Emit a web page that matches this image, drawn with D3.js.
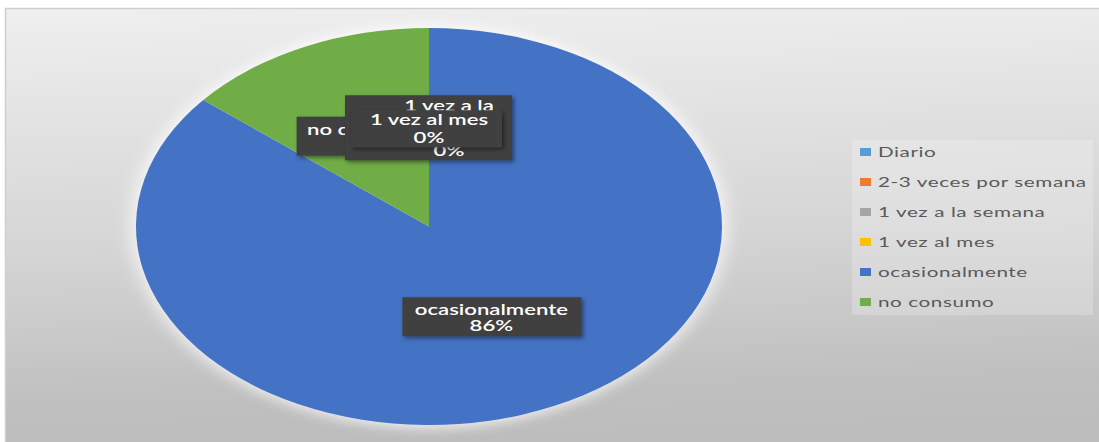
<!DOCTYPE html>
<html>
<head>
<meta charset="utf-8">
<script src="https://cdn.jsdelivr.net/npm/d3@7"></script>
<style>
  body { margin: 0; background: #fff; }
  svg { display: block; }
  text { font-family: Lato, "Open Sans", sans-serif; }
</style>
</head>
<body>
<svg id="chart" width="1099" height="442"></svg>
<script>
// Frecuencia de consumo
const categories = ["Diario", "2-3 veces por semana", "1 vez a la semana", "1 vez al mes", "ocasionalmente", "no consumo"];
const values = [0, 0, 0, 0, 86, 14];
const colors = ["#5b9bd5", "#ed7d31", "#a5a5a5", "#ffc000", "#4472c4", "#70ad47"];
// how each data label's text is broken into lines
const labelLines = [
  ["Diario", "0%"],
  ["2-3 veces por", "semana", "0%"],
  ["1 vez a la", "semana", "0%"],
  ["1 vez al mes", "0%"],
  ["ocasionalmente", "86%"],
  ["no consumo", "14%"]
];

const W = 1099, H = 442;
const cx = 429, cy = 226.5, ry = 198.5, rx = 293;
const sx = rx / ry;               // horizontal stretch of the whole drawing

const svg = d3.select("#chart");
const defs = svg.append("defs");

// chart area background gradient
const bg = defs.append("linearGradient").attr("id", "bg")
  .attr("x1", "0").attr("y1", "0").attr("x2", "0.08").attr("y2", "1");
bg.append("stop").attr("offset", "0").attr("stop-color", "#efefef");
bg.append("stop").attr("offset", "0.55").attr("stop-color", "#d5d5d5");
bg.append("stop").attr("offset", "0.9").attr("stop-color", "#bfbfbf");
bg.append("stop").attr("offset", "1").attr("stop-color", "#bdbdbd");

const glow = defs.append("filter").attr("id", "glow")
  .attr("x", "-20%").attr("y", "-20%").attr("width", "140%").attr("height", "140%");
glow.append("feGaussianBlur").attr("stdDeviation", 6);

const shadow = defs.append("filter").attr("id", "shadow")
  .attr("x", "-20%").attr("y", "-30%").attr("width", "150%").attr("height", "170%");
shadow.append("feDropShadow").attr("dx", 2).attr("dy", 2).attr("stdDeviation", 2)
  .attr("flood-color", "#000").attr("flood-opacity", 0.45);

svg.append("rect").attr("x", 5.5).attr("y", 8.5).attr("width", W).attr("height", H)
  .attr("fill", "url(#bg)").attr("stroke", "#cfcfcf").attr("stroke-width", 1.5);

// pie
const pie = d3.pie().sort(null).value(d => d)(values);
const arc = d3.arc().innerRadius(0).outerRadius(ry);

const g = svg.append("g").attr("transform", `translate(${cx},${cy}) scale(${sx},1)`);
g.append("circle").attr("r", ry + 3).attr("fill", "#ffffff").attr("opacity", 0.75)
  .attr("filter", "url(#glow)");
g.selectAll("path.slice").data(pie).join("path")
  .attr("class", "slice")
  .attr("d", arc)
  .attr("fill", (d, i) => colors[i]);

// data labels: box offsets relative to slice centroid
// (labels of the other zero slices sit underneath the same spot and stay hidden)
const boxes = {
  2: { x0: -84, x1: 83, y0: -32, y1: 33, tx: 20, ty: [-22, 0, 23] },
  3: { x0: -78, x1: 73, y0: -17, y1: 20, tx: 0, ty: [-8, 10] },
  4: { x0: -89, x1: 90, y0: -19, y1: 20, tx: 0, ty: [-7, 8.5] },
  5: { x0: -70, x1: 70, y0: -20, y1: 19, tx: 0, ty: [-8, 10] }
};
const drawOrder = [5, 2, 3, 4];
drawOrder.forEach(i => {
  const c = arc.centroid(pie[i]);
  const px = cx + c[0] * sx, py = cy + c[1];
  const b = boxes[i];
  const lg = svg.append("g").attr("transform", `translate(${px},${py})`);
  const clipId = "clip" + i;
  defs.append("clipPath").attr("id", clipId).append("rect")
    .attr("x", px + b.x0).attr("y", py + b.y0)
    .attr("width", b.x1 - b.x0).attr("height", b.y1 - b.y0);
  lg.append("rect")
    .attr("x", b.x0).attr("y", b.y0).attr("width", b.x1 - b.x0).attr("height", b.y1 - b.y0)
    .attr("fill", "#404040").attr("filter", "url(#shadow)");
  const tg = svg.append("g").attr("clip-path", `url(#${clipId})`);
  labelLines[i].forEach((ln, k) => {
    tg.append("text")
      .attr("transform", `translate(${px + b.tx},${py + b.ty[k]}) scale(${sx},1)`)
      .attr("text-anchor", "middle").attr("dominant-baseline", "central")
      .attr("fill", "#ffffff").attr("font-size", 15).attr("font-weight", 600)
      .text(ln);
  });
});

// legend
const leg = svg.append("g");
leg.append("rect").attr("x", 852).attr("y", 140).attr("width", 241).attr("height", 175)
  .attr("fill", "#ffffff").attr("opacity", 0.22);
categories.forEach((name, i) => {
  const y = 152 + i * 30;
  leg.append("rect").attr("x", 860).attr("y", y - 4).attr("width", 11).attr("height", 8)
    .attr("fill", colors[i]);
  leg.append("text")
    .attr("transform", `translate(878,${y}) scale(${sx},1)`)
    .attr("dominant-baseline", "central")
    .attr("fill", "#595959").attr("font-size", 14).attr("letter-spacing", 0.4)
    .text(name);
});
</script>
</body>
</html>
